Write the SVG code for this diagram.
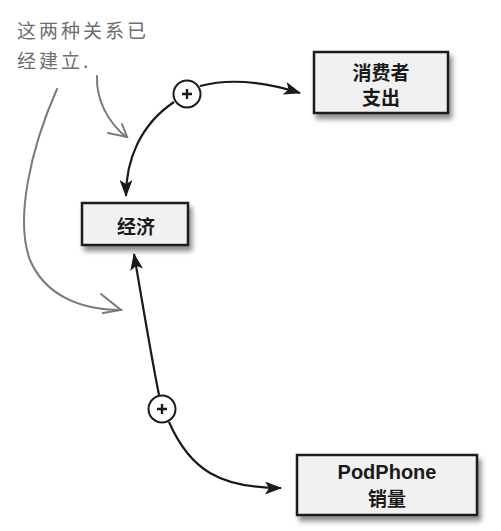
<svg xmlns="http://www.w3.org/2000/svg" width="501" height="531" viewBox="0 0 501 531">
<defs>
<filter id="sh" x="-10%" y="-20%" width="130%" height="160%">
<feDropShadow dx="3" dy="5" stdDeviation="2.5" flood-color="#000" flood-opacity="0.45"/>
</filter>
<marker id="ah" markerWidth="17" markerHeight="13" refX="16" refY="6.5" orient="auto" markerUnits="userSpaceOnUse">
<path d="M0,0 L17,6.5 L0,13 L4,6.5 Z" fill="#1a1a1a"/>
</marker>
</defs>
<style>
.box{fill:#f1f1f1;stroke:#1a1a1a;stroke-width:2.5}
.lbl{font-family:"Liberation Sans","Noto Sans CJK SC",sans-serif;font-weight:bold;font-size:19px;fill:#1a1a1a;text-anchor:middle}
.con{fill:none;stroke:#1a1a1a;stroke-width:2.2}
.plus{fill:#fff;stroke:#1a1a1a;stroke-width:2}
.pl{stroke:#1a1a1a;stroke-width:2.4}
.note{font-family:"Noto Sans CJK SC",sans-serif;font-size:19px;fill:#6e6e6e;letter-spacing:3px}
.gr{fill:none;stroke:#7a7a7a;stroke-width:2;stroke-linecap:round}
</style>
<g id="note">
<text class="note" x="17" y="38">这两种关系已</text>
<text class="note" x="17" y="68">经建立.</text>
<path class="gr" d="M97,76 C96,100 108,122 126,137"/>
<path class="gr" d="M108,133 L127,137 L122,124"/>
<path class="gr" d="M57,89 C30,150 15,220 30,260 C45,295 80,310 121,310"/>
<path class="gr" d="M101,294 L121,310 L103,313"/>
</g>
<g id="connectors">
<path class="con" d="M174,102 C140,125 126,160 126,196" marker-end="url(#ah)"/>
<path class="con" d="M200,86 C230,78 265,82 300,93" marker-end="url(#ah)"/>
<path class="con" d="M159,395 C150,350 142,300 134,254" marker-end="url(#ah)"/>
<path class="con" d="M169,422 C190,470 220,488 281,488" marker-end="url(#ah)"/>
</g>
<g id="plus1">
<circle class="plus" cx="187" cy="94" r="13.5"/>
<path class="pl" d="M182,94 H192 M187,89 V99"/>
</g>
<g id="plus2">
<circle class="plus" cx="162" cy="409" r="13.5"/>
<path class="pl" d="M157,409 H167 M162,404 V414"/>
</g>
<g id="consumer">
<rect class="box" x="314" y="52" width="134" height="61" filter="url(#sh)"/>
<text class="lbl" x="381" y="80">消费者</text>
<text class="lbl" x="381" y="105">支出</text>
</g>
<g id="economy">
<rect class="box" x="82" y="203" width="106" height="42" filter="url(#sh)"/>
<text class="lbl" x="136" y="234">经济</text>
</g>
<g id="podphone">
<rect class="box" x="297" y="455" width="180" height="60" filter="url(#sh)"/>
<text class="lbl" x="387" y="479" style="font-size:20px">PodPhone</text>
<text class="lbl" x="387" y="506">销量</text>
</g>
</svg>
